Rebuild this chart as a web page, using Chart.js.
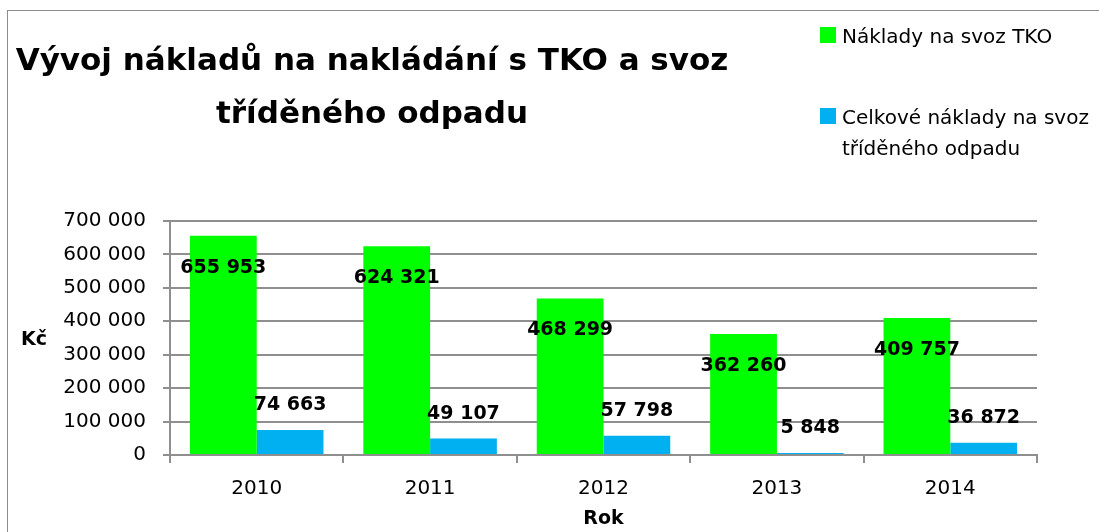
<!DOCTYPE html>
<html>
<head>
<meta charset="utf-8">
<script src="https://cdn.jsdelivr.net/npm/chart.js@4.4.1/dist/chart.umd.min.js"></script>
<style>
  body { margin: 0; background: #fff; }
  #wrap { width: 1099px; height: 532px; position: relative; }
</style>
</head>
<body>
<div id="wrap"><canvas id="graf" width="1099" height="532"></canvas></div>
<script>
// data z grafu
const years = ['2010', '2011', '2012', '2013', '2014'];
const tkoCosts = [655953, 624321, 468299, 362260, 409757];
const sortedWasteCosts = [74663, 49107, 57798, 5848, 36872];
const seriesNames = [['Náklady na svoz TKO'], ['Celkové náklady na svoz', 'tříděného odpadu']];
const titleLines = ['Vývoj nákladů na nakládání s TKO a svoz', 'tříděného odpadu'];
const yTitle = 'Kč';
const xTitle = 'Rok';

const colors = ['#00ff00', '#00b0f0'];
const gridColor = '#8f8f8f';

function formatNum(v) {
    return String(v).replace(/\B(?=(\d{3})+(?!\d))/g, ' ');
}

// vlastni texty - titulek, legenda, popisky
const textPlugin = {
    id: 'textPlugin',
    beforeDraw(chart) {
        const ctx = chart.ctx;
        ctx.save();
        ctx.strokeStyle = '#8c8c8c';
        ctx.lineWidth = 1;
        ctx.strokeRect(7.5, 10.5, 1200, 600);
        ctx.restore();
    },
    afterDatasetsDraw(chart) {
        const ctx = chart.ctx;
        ctx.save();
        ctx.font = 'bold 19px "DejaVu Sans"';
        ctx.fillStyle = '#000';
        ctx.textAlign = 'center';
        ctx.textBaseline = 'alphabetic';
        chart.data.datasets.forEach((ds, i) => {
            chart.getDatasetMeta(i).data.forEach((bar, j) => {
                const y = i === 0 ? bar.y + 37 : bar.y - 20;
                ctx.fillText(formatNum(ds.data[j]), bar.x, y);
            });
        });
        ctx.restore();
    },
    afterDraw(chart) {
        const ctx = chart.ctx;
        const area = chart.chartArea;
        ctx.save();
        ctx.fillStyle = '#000';

        // titulek
        ctx.font = 'bold 31px "DejaVu Sans"';
        ctx.textAlign = 'center';
        ctx.fillText(titleLines[0], 372, 70);
        ctx.fillText(titleLines[1], 372, 123);

        // legenda
        ctx.font = '20px "DejaVu Sans"';
        ctx.textAlign = 'left';
        const legendY = [43, 124];
        seriesNames.forEach((lines, i) => {
            ctx.fillStyle = colors[i];
            ctx.fillRect(820, legendY[i] - 16, 16, 16);
            ctx.fillStyle = '#000';
            lines.forEach((t, k) => ctx.fillText(t, 842, legendY[i] + k * 31));
        });

        // nazev osy y vodorovne
        ctx.font = 'bold 19px "DejaVu Sans"';
        ctx.textAlign = 'center';
        ctx.textBaseline = 'middle';
        ctx.fillText(yTitle, 34, (area.top + area.bottom) / 2 + 2);
        ctx.restore();
    }
};

new Chart(document.getElementById('graf'), {
    type: 'bar',
    data: {
        labels: years,
        datasets: [
            {
                label: seriesNames[0].join(' '),
                data: tkoCosts,
                backgroundColor: colors[0],
                borderWidth: 0,
                categoryPercentage: 0.77,
                barPercentage: 1.0
            },
            {
                label: seriesNames[1].join(' '),
                data: sortedWasteCosts,
                backgroundColor: colors[1],
                borderWidth: 0,
                categoryPercentage: 0.77,
                barPercentage: 1.0
            }
        ]
    },
    options: {
        responsive: false,
        animation: false,
        layout: { padding: { left: 0, right: 62, top: 221, bottom: 2 } },
        plugins: {
            legend: { display: false },
            title: { display: false },
            tooltip: { enabled: false }
        },
        scales: {
            x: {
                afterFit: (scale) => { scale.height = 75; },
                grid: { drawOnChartArea: false, color: gridColor, lineWidth: 2, tickLength: 8 },
                border: { color: gridColor, width: 2 },
                ticks: { color: '#000', font: { family: 'DejaVu Sans', size: 20 }, padding: 14 },
                title: { display: true, text: xTitle, color: '#000', font: { family: 'DejaVu Sans', size: 19, weight: 'bold' }, padding: 0 }
            },
            y: {
                min: 0,
                max: 700000,
                afterFit: (scale) => { scale.width = 170; },
                grid: { color: gridColor, lineWidth: 2, tickLength: 7 },
                border: { color: gridColor, width: 2 },
                ticks: {
                    stepSize: 100000,
                    color: '#000',
                    font: { family: 'DejaVu Sans', size: 20 },
                    padding: 17,
                    callback: (v) => formatNum(v)
                }
            }
        }
    },
    plugins: [textPlugin]
});
</script>
</body>
</html>
